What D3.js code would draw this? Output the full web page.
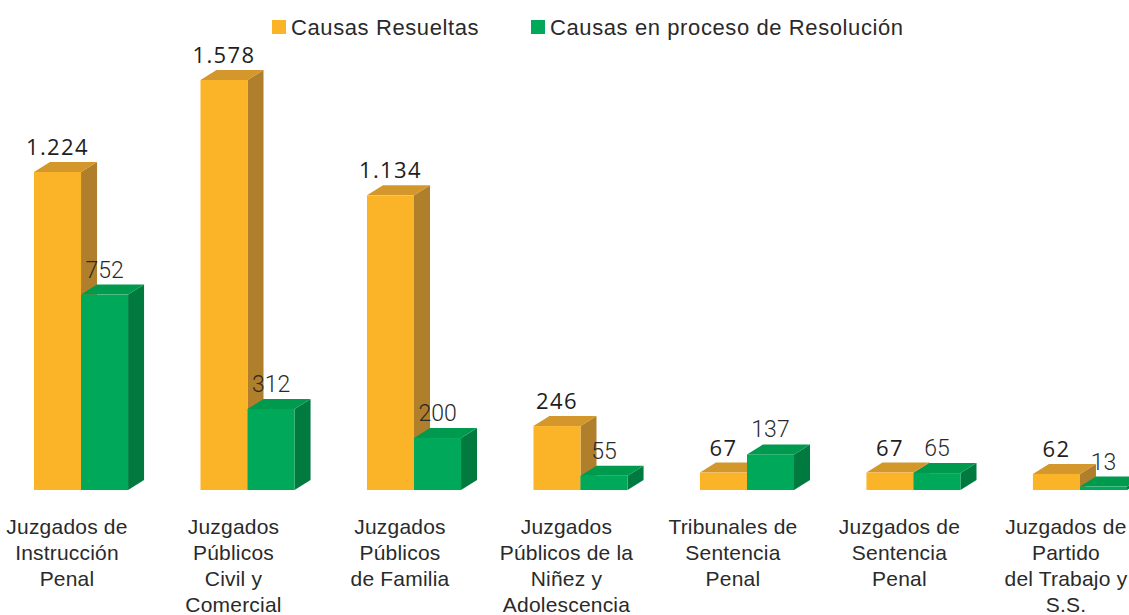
<!DOCTYPE html>
<html>
<head>
<meta charset="utf-8">
<script src="https://cdn.jsdelivr.net/npm/d3@7"></script>
<style>
  html, body { margin: 0; padding: 0; background: #fff; }
  svg { display: block; }
</style>
</head>
<body>
<svg id="chart" width="1129" height="615"></svg>
<script>
// Categories (multi-line labels) and the two series
const categories = [
  ["Juzgados de", "Instrucción", "Penal"],
  ["Juzgados", "Públicos", "Civil y", "Comercial"],
  ["Juzgados", "Públicos", "de Familia"],
  ["Juzgados", "Públicos de la", "Niñez y", "Adolescencia"],
  ["Tribunales de", "Sentencia", "Penal"],
  ["Juzgados de", "Sentencia", "Penal"],
  ["Juzgados de", "Partido", "del Trabajo y", "S.S."]
];
const resueltas = [1224, 1578, 1134, 246, 67, 67, 62];
const enProceso = [752, 312, 200, 55, 137, 65, 13];
const seriesNames = ["Causas Resueltas", "Causas en proceso de Resolución"];

const svg = d3.select("#chart");
const baseY = 490, topY = 80;
const dx = 16, dy = 10;

const colors = [
  { front: "#FBB427", side: "#AF7F2B", top: "#D4972B" },
  { front: "#00A85A", side: "#007A3E", top: "#009A4F" }
];

const x = d3.scaleBand()
  .domain(d3.range(categories.length))
  .range([34, 1127])
  .paddingInner(0.435)
  .paddingOuter(0);

const xs = d3.scaleBand()
  .domain([0, 1])
  .range([0, x.bandwidth()]);

const y = d3.scaleLinear()
  .domain([0, d3.max(resueltas)])
  .range([baseY, topY]);

const fmt = v => d3.format(",")(v).replace(/,/g, ".");

const data = [];
categories.forEach((c, i) => {
  data.push({ i, s: 0, v: resueltas[i] });
  data.push({ i, s: 1, v: enProceso[i] });
});

const bars = svg.append("g").attr("class", "bars");

data.forEach(d => {
  const x0 = x(d.i) + xs(d.s);
  const w = xs.bandwidth();
  const yt = y(d.v);
  const c = colors[d.s];
  const g = bars.append("g");
  // right side face
  g.append("polygon")
    .attr("points", [[x0 + w, yt], [x0 + w + dx, yt - dy], [x0 + w + dx, baseY - dy], [x0 + w, baseY]].join(" "))
    .attr("fill", c.side);
  // top face
  g.append("polygon")
    .attr("points", [[x0, yt], [x0 + dx, yt - dy], [x0 + w + dx, yt - dy], [x0 + w, yt]].join(" "))
    .attr("fill", c.top);
  // front face
  g.append("rect")
    .attr("x", x0).attr("y", yt)
    .attr("width", w).attr("height", baseY - yt)
    .attr("fill", c.front);
});

// value labels
svg.append("g").selectAll("text")
  .data(data)
  .join("text")
  .attr("x", d => x(d.i) + xs(d.s) + xs.bandwidth() / 2)
  .attr("y", d => y(d.v) - dy - 7)
  .attr("text-anchor", "middle")
  .attr("fill", d => d.s === 0 ? "#1e1e1e" : "#2a2a2a")
  .style("font-family", d => d.s === 0 ? "'Open Sans', sans-serif" : "Roboto, sans-serif")
  .style("font-weight", d => d.s === 0 ? 400 : 300)
  .style("font-size", d => d.s === 0 ? "22px" : "23px")
  .style("letter-spacing", d => d.s === 0 ? "1.4px" : "0px")
  .text(d => fmt(d.v));

// category labels
const cat = svg.append("g");
categories.forEach((lines, i) => {
  const t = cat.append("text")
    .attr("x", x(i) + 33)
    .attr("y", 534)
    .attr("text-anchor", "middle")
    .attr("fill", "#2a2a2a")
    .style("font-family", "'Liberation Sans', Arial, sans-serif")
    .style("font-size", "21px")
    .style("letter-spacing", "0.2px");
  lines.forEach((l, k) => {
    t.append("tspan")
      .attr("x", x(i) + 33)
      .attr("y", 534 + k * 26)
      .text(l);
  });
});

// legend
const legendX = [272, 531];
const legend = svg.append("g");
seriesNames.forEach((name, k) => {
  legend.append("rect")
    .attr("x", legendX[k]).attr("y", 20)
    .attr("width", 14).attr("height", 14)
    .attr("fill", colors[k].front);
  legend.append("text")
    .attr("x", legendX[k] + 19)
    .attr("y", 35)
    .attr("fill", "#2a2a2a")
    .style("font-family", "'Liberation Sans', Arial, sans-serif")
    .style("font-size", "22px")
    .style("letter-spacing", "0.6px")
    .text(name);
});
</script>
</body>
</html>
